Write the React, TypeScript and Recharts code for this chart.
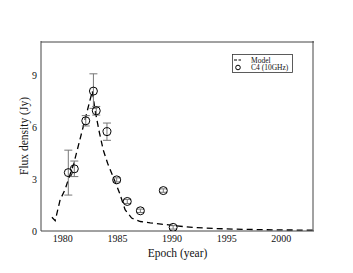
import React from 'react';
import { ComposedChart, XAxis, YAxis, Scatter, Line, ErrorBar, Legend } from 'recharts';

const obsYears = [1980.5, 1981.05, 1982.1, 1982.8, 1983.06, 1984.04, 1984.93, 1985.9, 1987.1, 1989.2, 1990.1];
const obsFlux = [3.38, 3.6, 6.38, 8.1, 6.96, 5.75, 2.96, 1.71, 1.17, 2.34, 0.21];
const obsErr = [1.3, 0.45, 0.3, 1.0, 0.25, 0.5, 0.12, 0.12, 0.1, 0.1, 0.1];

const modelYears = [1979.0, 1979.3, 1979.75, 1980.2, 1981.0, 1982.7, 1982.95, 1983.3, 1983.7, 1984.1, 1984.6, 1985.2, 1985.7, 1986.3, 1987.1, 1988, 1989, 1990, 1991, 1992, 1994, 1997, 2000, 2003];
const modelFlux = [0.8, 0.6, 1.8, 2.4, 3.9, 8.1, 7.0, 5.84, 4.69, 3.92, 3.15, 2.19, 1.23, 0.75, 0.55, 0.47, 0.4, 0.33, 0.26, 0.2, 0.14, 0.09, 0.06, 0.05];

const xMajorTicks = [1980, 1985, 1990, 1995, 2000];
const xMinorTicks = [1979, 1980, 1981, 1982, 1983, 1984, 1985, 1986, 1987, 1988, 1989, 1990, 1991, 1992, 1993, 1994, 1995, 1996, 1997, 1998, 1999, 2000, 2001, 2002];
const yMajorTicks = [0, 3, 6, 9];
const yMinorTicks = [1, 2, 3, 4, 5, 6, 7, 8, 9, 10];

const xLabel = 'Epoch (year)';
const yLabel = 'Flux density (Jy)';
const modelName = 'Model';
const obsName = 'C4 (10GHz)';

const obsData = obsYears.map((x, i) => ({ x, y: obsFlux[i], err: obsErr[i] }));
const modelData = modelYears.map((x, i) => ({ x, y: modelFlux[i] }));

const FONT = '"Liberation Serif", "Times New Roman", serif';
const AXIS = '#444';
const X_DOMAIN: [number, number] = [1978, 2003];
const Y_DOMAIN: [number, number] = [0, 11];

const LegendBox = () => (
  <svg width={61} height={19} style={{ display: 'block' }}>
    <rect x={0.5} y={0.5} width={60} height={18} fill="#fff" stroke="#333" strokeWidth={0.8} />
    <line x1={2} y1={6} x2={9} y2={6} stroke="#000" strokeWidth={1.2} strokeDasharray="3 1.5" />
    <text x={19} y={8.5} fontFamily={FONT} fontSize={7.5} fill="#111">{modelName}</text>
    <circle cx={6} cy={13.5} r={2.3} fill="none" stroke="#000" strokeWidth={1} />
    <text x={19} y={16} fontFamily={FONT} fontSize={7.5} fill="#111">{obsName}</text>
  </svg>
);

const Circle = (p: any) => (
  <circle cx={p.cx} cy={p.cy} r={4} fill="none" stroke="#000" strokeWidth={1} />
);

export default function App() {
  return (
    <ComposedChart width={345} height={265} margin={{ top: 33, right: 39, bottom: 0, left: 0 }}>
      {/* tick-only axes (inward) */}
      <XAxis xAxisId="bMinor" type="number" dataKey="x" domain={X_DOMAIN} allowDataOverflow ticks={xMinorTicks} interval={0}
        orientation="bottom" mirror height={1} tick={false} tickSize={3} axisLine={false} tickLine={{ stroke: AXIS }} />
      <XAxis xAxisId="bMajor" type="number" dataKey="x" domain={X_DOMAIN} allowDataOverflow ticks={xMajorTicks} interval={0}
        orientation="bottom" mirror height={1} tick={false} tickSize={5} axisLine={false} tickLine={{ stroke: AXIS }} />
      <XAxis xAxisId="tMinor" type="number" dataKey="x" domain={X_DOMAIN} allowDataOverflow ticks={xMinorTicks} interval={0}
        orientation="top" mirror height={1} tick={false} tickSize={3} axisLine={{ stroke: AXIS }} tickLine={{ stroke: AXIS }} />
      <XAxis xAxisId="tMajor" type="number" dataKey="x" domain={X_DOMAIN} allowDataOverflow ticks={xMajorTicks} interval={0}
        orientation="top" mirror height={1} tick={false} tickSize={5} axisLine={false} tickLine={{ stroke: AXIS }} />
      <YAxis yAxisId="lMinor" type="number" domain={Y_DOMAIN} allowDataOverflow ticks={yMinorTicks} interval={0}
        orientation="left" mirror width={1} tick={false} tickSize={3} axisLine={false} tickLine={{ stroke: AXIS }} />
      <YAxis yAxisId="lMajor" type="number" domain={Y_DOMAIN} allowDataOverflow ticks={yMajorTicks} interval={0}
        orientation="left" mirror width={1} tick={false} tickSize={5} axisLine={false} tickLine={{ stroke: AXIS }} />
      <YAxis yAxisId="rMinor" type="number" domain={Y_DOMAIN} allowDataOverflow ticks={yMinorTicks} interval={0}
        orientation="right" mirror width={1} tick={false} tickSize={3} axisLine={{ stroke: AXIS }} tickLine={{ stroke: AXIS }} />
      <YAxis yAxisId="rMajor" type="number" domain={Y_DOMAIN} allowDataOverflow ticks={yMajorTicks} interval={0}
        orientation="right" mirror width={1} tick={false} tickSize={5} axisLine={false} tickLine={{ stroke: AXIS }} />

      {/* labelled axes */}
      <XAxis xAxisId="main" type="number" dataKey="x" domain={X_DOMAIN} allowDataOverflow ticks={xMajorTicks} interval={0}
        height={42} tickSize={0} tickMargin={4} tickLine={false} axisLine={{ stroke: AXIS }}
        tick={{ fontFamily: FONT, fontSize: 10, fill: '#111' }}
        label={{ value: xLabel, position: 'insideTop', offset: 18, fontFamily: FONT, fontSize: 11.5, fill: '#111' }} />
      <YAxis yAxisId="main" type="number" domain={Y_DOMAIN} allowDataOverflow ticks={yMajorTicks} interval={0}
        width={33} tickSize={0} tickMargin={4} tickLine={false} axisLine={{ stroke: AXIS }}
        tick={{ fontFamily: FONT, fontSize: 10, fill: '#111' }}
        label={{ value: yLabel, angle: -90, position: 'center', dx: -1, fontFamily: FONT, fontSize: 11.5, fill: '#111' }} />

      <Line xAxisId="main" yAxisId="main" data={modelData} dataKey="y" type="linear" stroke="#000" strokeWidth={1.3}
        strokeDasharray="6 4" dot={false} activeDot={false} isAnimationActive={false} name={modelName} />
      <Scatter xAxisId="main" yAxisId="main" data={obsData} dataKey="y" shape={Circle} isAnimationActive={false} name={obsName}>
        <ErrorBar dataKey="err" direction="y" width={4} stroke="#777" strokeWidth={1} />
      </Scatter>

      <Legend layout="vertical" align="center" verticalAlign="middle" content={() => <LegendBox />}
        wrapperStyle={{ position: 'absolute', left: 224, top: 46, width: 61, height: 19 }} />
    </ComposedChart>
  );
}
